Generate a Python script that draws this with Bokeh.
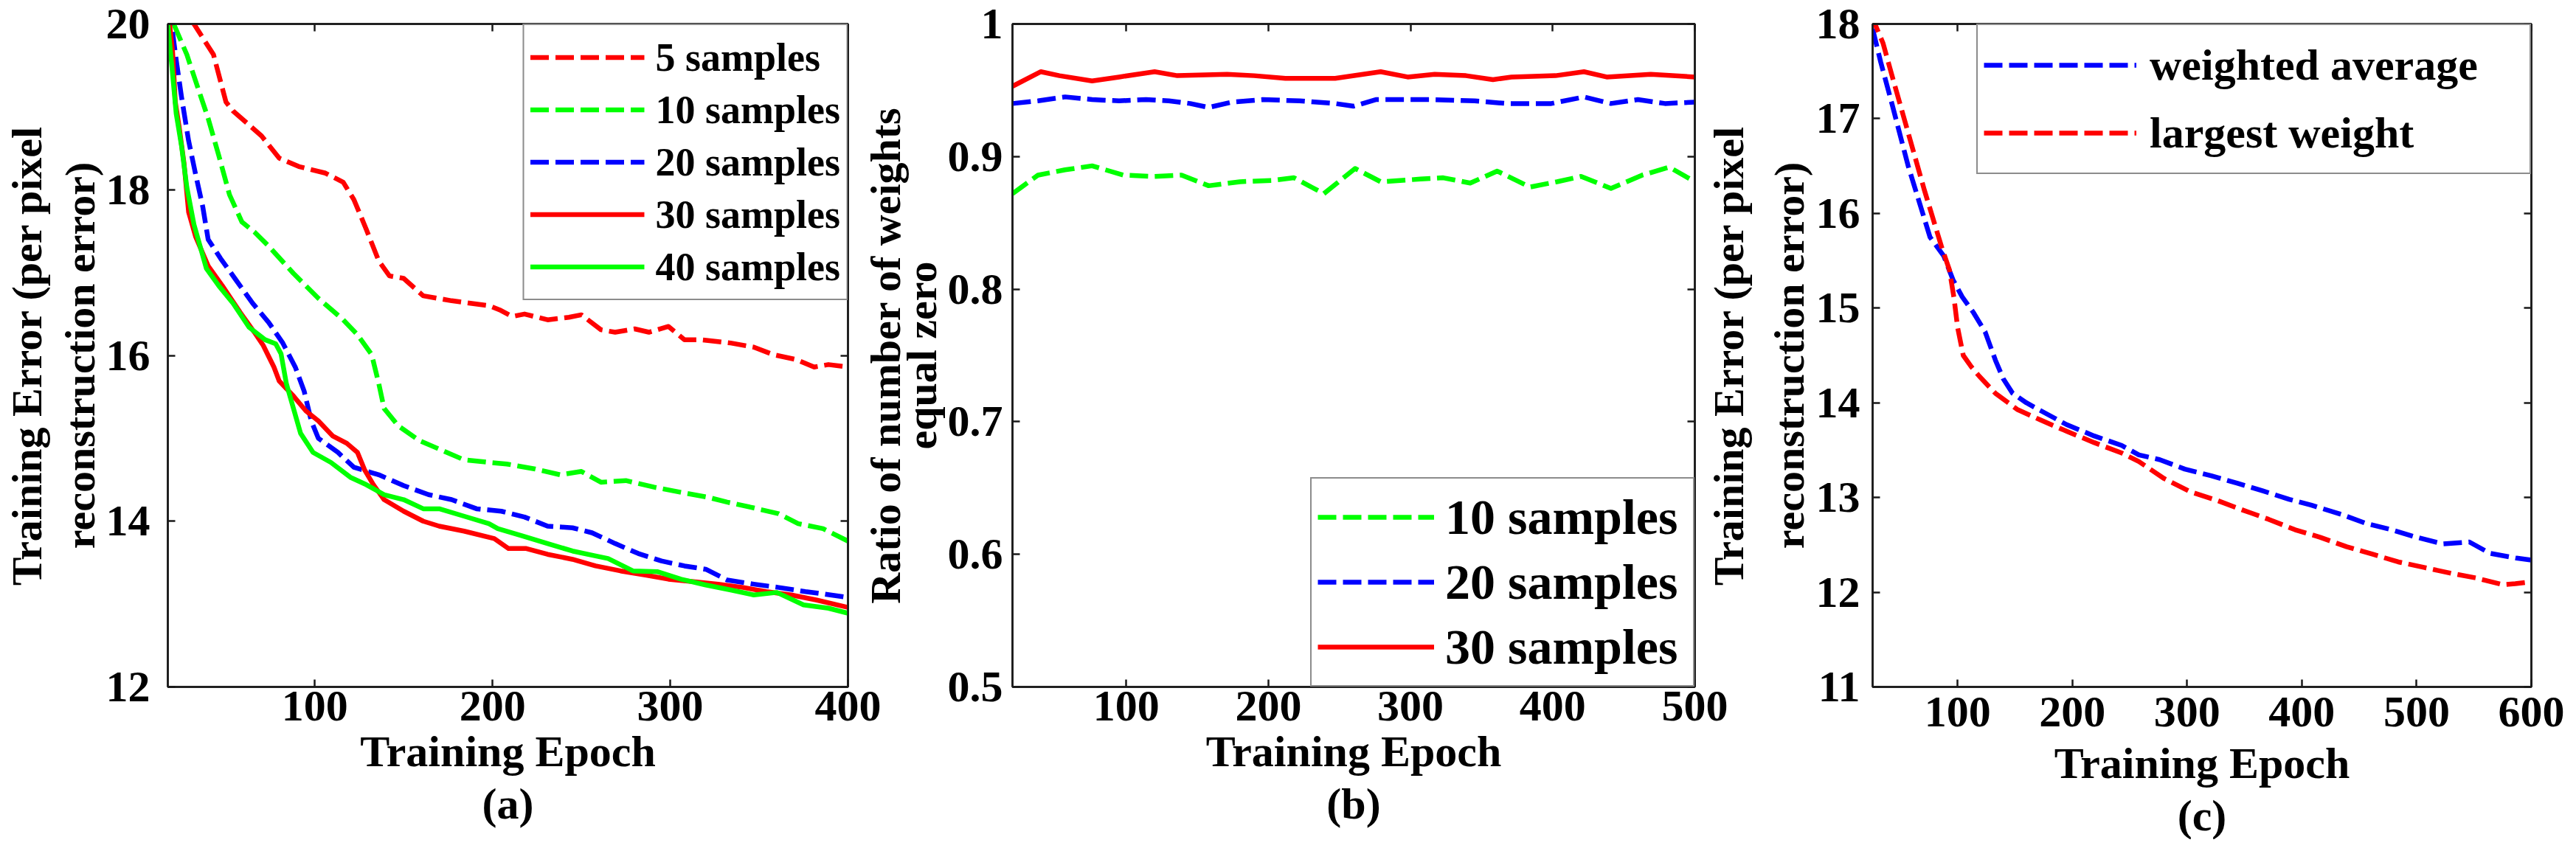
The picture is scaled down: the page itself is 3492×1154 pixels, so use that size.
from bokeh.plotting import figure
from bokeh.models import Range1d, FixedTicker, LinearAxis, Title
from bokeh.layouts import row
from bokeh.embed import file_html
from bokeh.resources import INLINE

FONT = "Liberation Serif"
INK = "#1a1a1a"
RED, GREEN, BLUE = "#ff0000", "#00ff00", "#0000ff"
DASH = "25 9"
LW = 6.5

# ---------------- panel (a) ----------------
a_xticks = [100, 200, 300, 400]
a_yticks = [12, 14, 16, 18, 20]
a5_x = [20, 32, 43, 50, 54, 62, 70, 80, 91, 106, 116, 122, 129, 136, 142, 150, 161, 177, 198, 204, 211, 218,
        231, 243, 250, 261, 269, 280, 288, 299, 308, 317, 334, 347, 358, 371, 381, 389, 400]
a5_y = [20.6, 20.0, 19.63, 19.06, 18.95, 18.8, 18.65, 18.38, 18.28, 18.2, 18.09, 17.88, 17.52, 17.14, 16.96,
        16.93, 16.72, 16.66, 16.6, 16.55, 16.47, 16.5, 16.43, 16.46, 16.49, 16.31, 16.28, 16.32, 16.28, 16.35,
        16.19, 16.19, 16.15, 16.1, 16.01, 15.95, 15.86, 15.89, 15.86]
a10_x = [18, 21, 28, 35, 40, 46, 52, 59, 66, 74, 88, 102, 116, 124, 132, 136, 139, 147, 159, 170, 184, 198,
         208, 224, 238, 250, 261, 275, 291, 308, 321, 332, 347, 361, 372, 386, 400]
a10_y = [20.3, 19.98, 19.63, 19.18, 18.86, 18.41, 17.94, 17.61, 17.49, 17.32, 16.99, 16.69, 16.43, 16.25, 16.01,
         15.66, 15.36, 15.15, 14.97, 14.87, 14.74, 14.71, 14.69, 14.63, 14.56, 14.6, 14.47, 14.49, 14.41, 14.34,
         14.29, 14.23, 14.16, 14.09, 13.97, 13.91, 13.76]
a20_x = [17.3, 19.5, 22, 25, 29, 33, 37, 40, 47, 55, 65, 74, 82, 89, 94, 98, 102, 113, 122, 136, 150, 164, 177,
         191, 205, 218, 231, 245, 256, 269, 282, 295, 308, 320, 332, 347, 361, 376, 387, 400]
a20_y = [20.2, 19.98, 19.57, 19.12, 18.59, 18.18, 17.79, 17.4, 17.17, 16.93, 16.63, 16.4, 16.15, 15.86, 15.57,
         15.21, 15.0, 14.83, 14.65, 14.56, 14.43, 14.32, 14.26, 14.15, 14.12, 14.05, 13.94, 13.92, 13.86, 13.73,
         13.61, 13.52, 13.46, 13.42, 13.29, 13.24, 13.2, 13.15, 13.12, 13.08]
a30_x = [17.3, 20, 21.5, 23.6, 26.4, 29, 33, 40, 48, 58, 66, 71, 77, 80, 88, 95, 102, 110, 118, 124, 128, 133,
         139, 150, 161, 170, 184, 201, 209, 219, 231, 245, 258, 272, 286, 299, 313, 327, 341, 354, 368, 382, 400]
a30_y = [20.2, 19.66, 19.06, 18.77, 18.32, 17.73, 17.43, 17.08, 16.84, 16.52, 16.28, 16.12, 15.86, 15.69, 15.51,
         15.33, 15.21, 15.03, 14.94, 14.83, 14.62, 14.44, 14.26, 14.12, 14.0, 13.94, 13.88, 13.79, 13.67, 13.67,
         13.6, 13.54, 13.46, 13.4, 13.35, 13.3, 13.27, 13.24, 13.2, 13.15, 13.11, 13.05, 12.96]
a40_x = [17.3, 19.5, 22, 25, 28, 32, 39, 46, 54, 63, 72, 78, 81, 84, 88, 92, 99, 109, 120, 129, 139, 150, 161,
         170, 184, 198, 203, 217, 231, 245, 258, 265, 279, 293, 306, 320, 334, 347, 360, 375, 389, 400]
a40_y = [20.0, 19.51, 18.92, 18.53, 18.03, 17.58, 17.05, 16.84, 16.63, 16.34, 16.19, 16.14, 16.02, 15.66, 15.36,
         15.06, 14.83, 14.71, 14.53, 14.44, 14.32, 14.26, 14.15, 14.15, 14.06, 13.97, 13.91, 13.82, 13.73, 13.64,
         13.58, 13.55, 13.4, 13.39, 13.3, 13.23, 13.17, 13.11, 13.14, 12.99, 12.95, 12.89]

# ---------------- panel (b) ----------------
b_xticks = [100, 200, 300, 400, 500]
b_yticks = [0.5, 0.6, 0.7, 0.8, 0.9, 1.0]
b_ylabels = {0.5: "0.5", 0.6: "0.6", 0.7: "0.7", 0.8: "0.8", 0.9: "0.9", 1.0: "1"}
b10_x = [20, 38, 57, 76, 98, 120, 139, 158, 180, 203, 218, 239, 261, 279, 307, 323, 342, 361, 384, 403, 420,
         441, 463, 482, 500]
b10_y = [0.872, 0.886, 0.890, 0.893, 0.886, 0.885, 0.886, 0.878, 0.881, 0.882, 0.884, 0.872, 0.891, 0.881,
         0.883, 0.884, 0.880, 0.889, 0.877, 0.881, 0.885, 0.876, 0.886, 0.892, 0.881]
b20_x = [20, 38, 57, 76, 95, 114, 130, 145, 158, 174, 196, 222, 247, 260, 276, 314, 345, 368, 399, 422, 441,
         460, 479, 500]
b20_y = [0.940, 0.942, 0.945, 0.943, 0.942, 0.943, 0.942, 0.940, 0.937, 0.941, 0.943, 0.942, 0.940, 0.938,
         0.943, 0.943, 0.942, 0.940, 0.940, 0.945, 0.940, 0.943, 0.940, 0.941]
b30_x = [20, 40, 53, 76, 95, 120, 136, 171, 190, 212, 247, 279, 298, 317, 339, 358, 371, 402, 422, 438, 469, 500]
b30_y = [0.953, 0.964, 0.961, 0.957, 0.960, 0.964, 0.961, 0.962, 0.961, 0.959, 0.959, 0.964, 0.960, 0.962,
         0.961, 0.958, 0.960, 0.961, 0.964, 0.960, 0.962, 0.960]

# ---------------- panel (c) ----------------
c_xticks = [100, 200, 300, 400, 500, 600]
c_yticks = [11, 12, 13, 14, 15, 16, 17, 18]
c_wavg_x = [26, 33, 43, 57, 76, 88, 96, 104, 114, 124, 133, 140, 148, 160, 172, 195, 219, 243, 258, 276, 298,
            321, 344, 366, 389, 408, 435, 455, 478, 500, 523, 546, 564, 587, 600]
c_wavg_y = [17.95, 17.6, 17.15, 16.5, 15.75, 15.55, 15.3, 15.12, 14.95, 14.75, 14.45, 14.25, 14.1, 14.0, 13.92,
            13.77, 13.65, 13.55, 13.45, 13.4, 13.3, 13.23, 13.15, 13.07, 12.98, 12.92, 12.82, 12.73, 12.66,
            12.58, 12.51, 12.53, 12.41, 12.36, 12.34]
c_larg_x = [26, 28, 35, 43, 57, 71, 86, 93, 97, 100, 105, 112, 119, 133, 152, 172, 195, 219, 243, 258, 280, 303,
            326, 348, 371, 394, 416, 439, 462, 484, 507, 530, 552, 575, 586, 600]
c_larg_y = [18.1, 18.0, 17.8, 17.45, 16.85, 16.25, 15.65, 15.4, 15.1, 14.8, 14.5, 14.38, 14.28, 14.1, 13.93,
            13.82, 13.7, 13.58, 13.47, 13.38, 13.2, 13.06, 12.97, 12.87, 12.77, 12.66, 12.58, 12.48, 12.4, 12.32,
            12.26, 12.2, 12.15, 12.08, 12.09, 12.11]

TOP = 32
H_ALL = 1138


def make_fig(xr, yr, w, bl, br, ml):
    p = figure(output_backend="svg", toolbar_location=None,
               width=w, height=H_ALL,
               x_range=Range1d(*xr), y_range=Range1d(*yr),
               min_border_left=bl, min_border_right=br, min_border_top=TOP, min_border_bottom=150,
               margin=(0, 0, 0, ml))
    p.border_fill_color = None
    p.background_fill_color = "white"
    p.xgrid.grid_line_color = None
    p.ygrid.grid_line_color = None
    p.outline_line_color = INK
    p.outline_line_width = 2.5
    return p


def style(p, xticks, yticks, ylabel, sub, x_sto, xl_sto, t_sto, y_sto, ylab_lh, yl_sto):
    p.xaxis.ticker = FixedTicker(ticks=xticks)
    p.yaxis.ticker = FixedTicker(ticks=yticks)
    for ax in (p.xaxis[0], p.yaxis[0]):
        ax.axis_line_color = INK
        ax.axis_line_width = 2.5
        ax.major_tick_line_color = INK
        ax.major_tick_line_width = 2.5
        ax.major_tick_in = 10
        ax.major_tick_out = 0
        ax.minor_tick_line_color = None
        ax.major_label_text_font = FONT
        ax.major_label_text_font_style = "bold"
        ax.major_label_text_font_size = "60px"
        ax.major_label_text_color = "black"
        ax.axis_label_text_font = FONT
        ax.axis_label_text_font_style = "bold"
        ax.axis_label_text_color = "black"
    p.xaxis.major_label_standoff = x_sto
    p.yaxis.major_label_standoff = y_sto
    p.xaxis.axis_label = "Training Epoch"
    p.xaxis.axis_label_text_font_size = "60px"
    p.xaxis.axis_label_standoff = xl_sto
    p.yaxis.axis_label = ylabel
    p.yaxis.axis_label_text_font_size = "58px"
    p.yaxis.axis_label_text_line_height = ylab_lh
    p.yaxis.axis_label_standoff = yl_sto
    for side, ticks in (("above", xticks), ("right", yticks)):
        ax = LinearAxis(ticker=FixedTicker(ticks=ticks), axis_line_color=INK, axis_line_width=2.5,
                        major_tick_line_color=INK, major_tick_line_width=2.5, major_tick_in=10,
                        major_tick_out=0, minor_tick_line_color=None, major_label_text_font_size="1px",
                        major_label_text_color=None, major_label_standoff=0)
        p.add_layout(ax, side)
    p.add_layout(Title(text=sub, align="center", text_font=FONT, text_font_style="bold",
                       text_font_size="60px", text_color="black", standoff=t_sto), "below")


def legend(p, loc, size, h, pad, gw, standoff, lw):
    lg = p.legend[0]
    lg.location = loc
    lg.margin = 0
    lg.padding = pad
    lg.spacing = 0
    lg.glyph_height = h
    lg.label_height = h
    lg.glyph_width = gw
    lg.label_width = lw
    lg.label_standoff = standoff
    lg.label_text_font = FONT
    lg.label_text_font_style = "bold"
    lg.label_text_font_size = f"{size}px"
    lg.label_text_color = "black"
    lg.border_line_color = INK
    lg.border_line_width = 2.5
    lg.background_fill_color = "white"
    lg.background_fill_alpha = 1.0


# ---- (a)
pa = make_fig((17.3, 400), (12, 20), 1200, 219, 51, 0)
pa.line(a5_x, a5_y, color=RED, line_width=LW, line_dash=DASH, line_join="round", legend_label="5 samples")
pa.line(a10_x, a10_y, color=GREEN, line_width=LW, line_dash=DASH, line_join="round", legend_label="10 samples")
pa.line(a20_x, a20_y, color=BLUE, line_width=LW, line_dash=DASH, line_join="round", legend_label="20 samples")
pa.line(a30_x, a30_y, color=RED, line_width=LW, line_join="round", legend_label="30 samples")
pa.line(a40_x, a40_y, color=GREEN, line_width=LW, line_join="round", legend_label="40 samples")
style(pa, a_xticks, a_yticks, "Training Error (per pixel\nreconstruction error)", "(a)",
      6, 6, 0, 24, 1.1, 0)
legend(pa, "top_right", 54, 71, 8, 155, 15, 241)

# ---- (b)
pb = make_fig((20, 500), (0.5, 1.0), 1178, 202, 45, -36)
pb.line(b10_x, b10_y, color=GREEN, line_width=LW, line_dash=DASH, line_join="round", legend_label="10 samples")
pb.line(b20_x, b20_y, color=BLUE, line_width=LW, line_dash=DASH, line_join="round", legend_label="20 samples")
pb.line(b30_x, b30_y, color=RED, line_width=LW, line_join="round", legend_label="30 samples")
style(pb, b_xticks, b_yticks, "Ratio of number of weights\nequal zero", "(b)",
      6, 6, 0, 13, 0.75, 0)
pb.yaxis[0].major_label_overrides = b_ylabels
legend(pb, "bottom_right", 68, 88, 8, 158, 15, 328)

# ---- (c)
pc = make_fig((26, 600), (11, 18), 1168, 223, 45, -34)
pc.line(c_wavg_x, c_wavg_y, color=BLUE, line_width=LW, line_dash=DASH, line_join="round",
        legend_label="weighted average")
pc.line(c_larg_x, c_larg_y, color=RED, line_width=LW, line_dash=DASH, line_join="round",
        legend_label="largest weight")
style(pc, c_xticks, c_yticks, "Training Error (per pixel\nreconstruction error)", "(c)",
      14, 14, 0, 17, 1.25, 1)
legend(pc, "top_right", 60, 92, 8, 207, 18, 507)

layout = row(pa, pb, pc)
open("out.html", "w").write(file_html(layout, INLINE))
